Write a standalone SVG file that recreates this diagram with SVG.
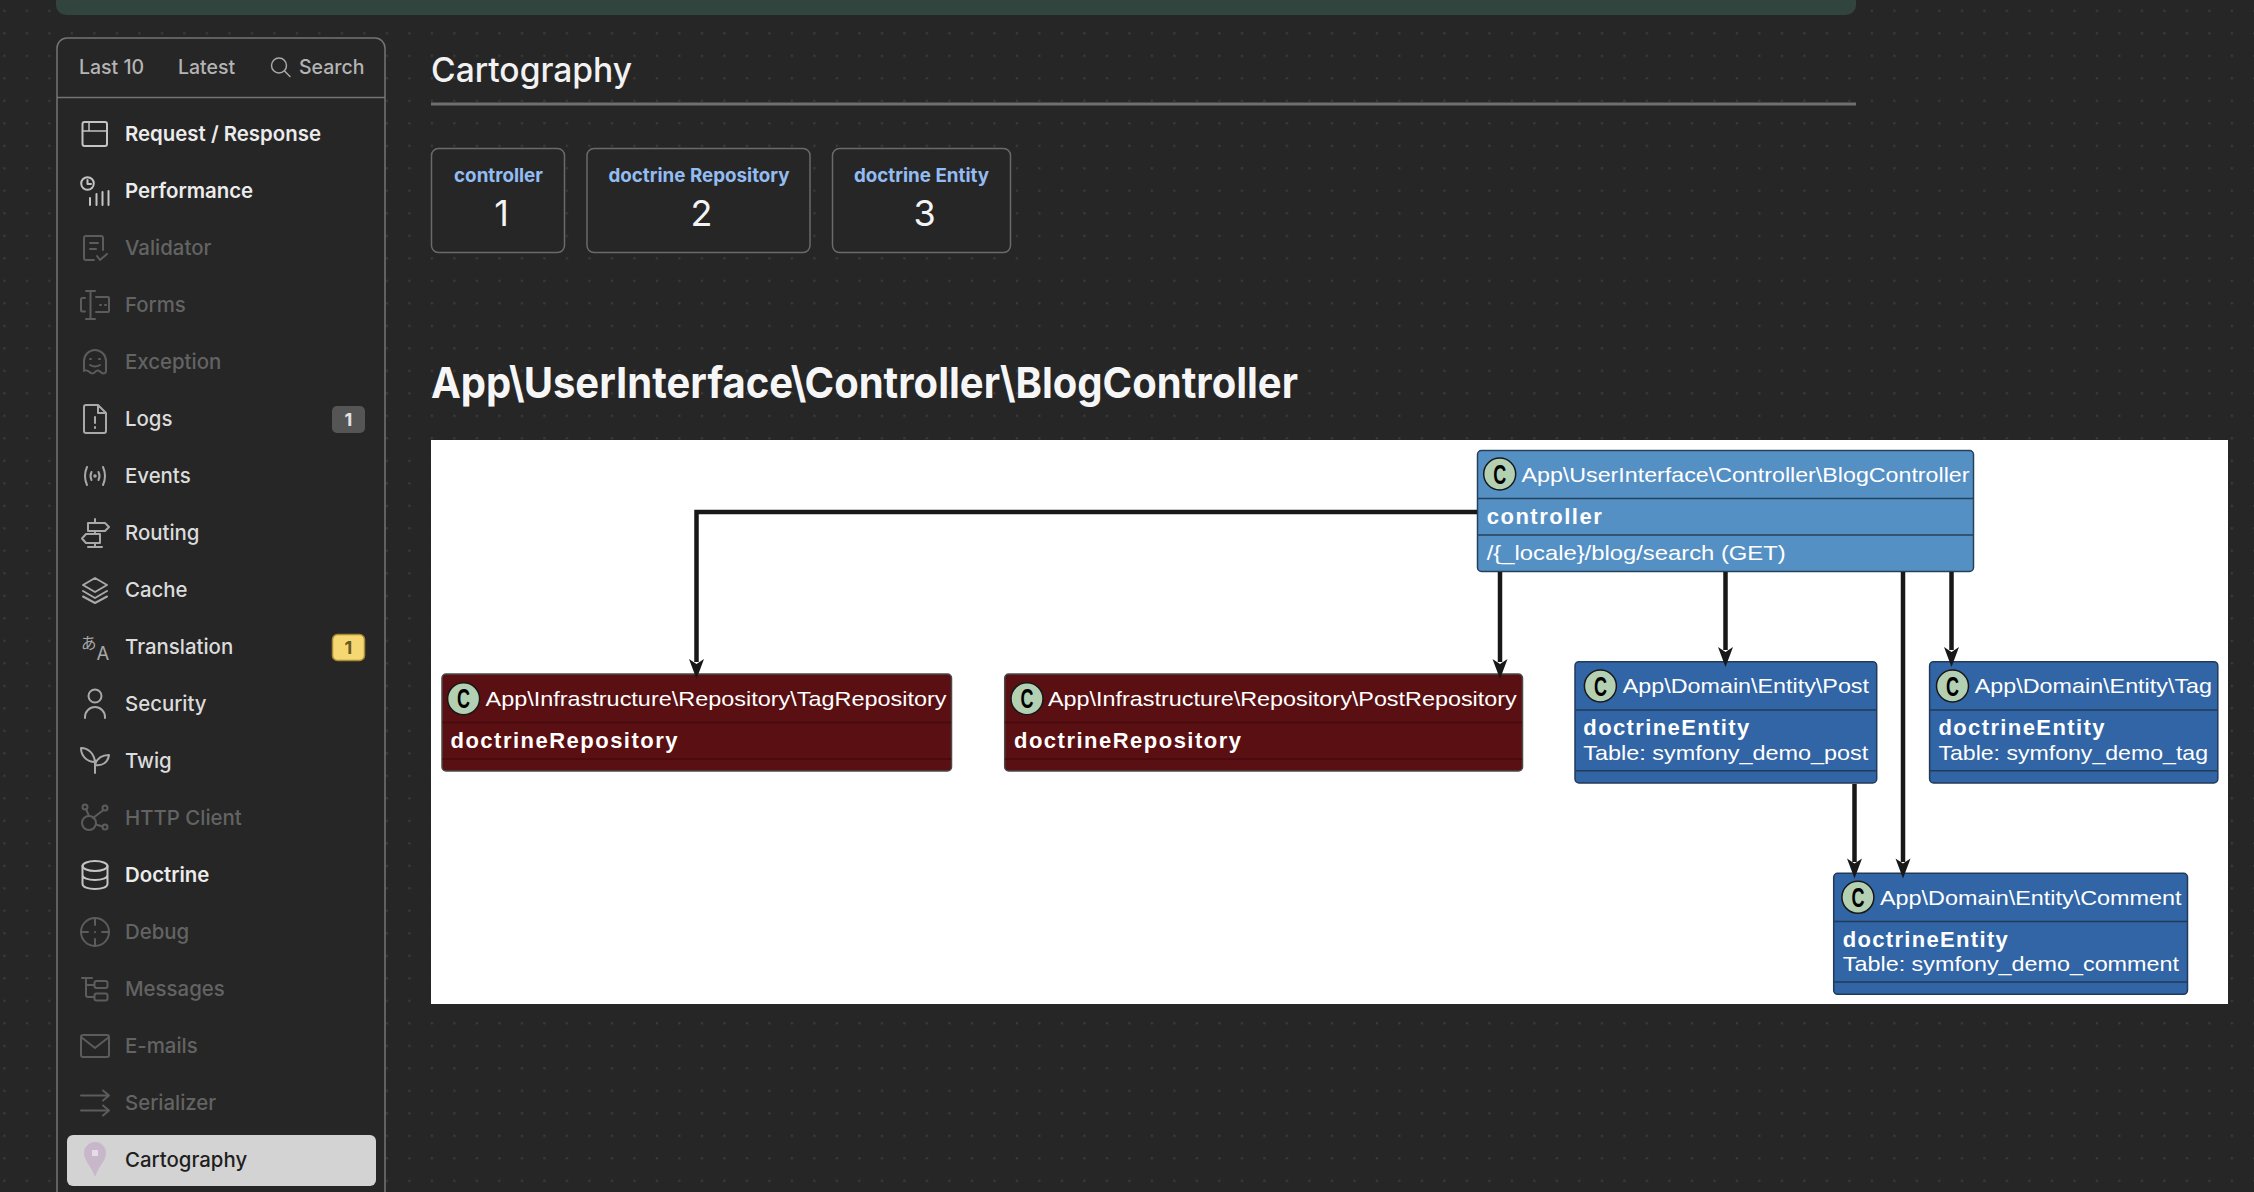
<svg xmlns="http://www.w3.org/2000/svg" width="2254" height="1192" viewBox="0 0 2254 1192">
<style>
text{font-family:"Inter","Liberation Sans",sans-serif}
.nav{font-size:20.4px;font-weight:500;fill:#dcdcdc}
.b{font-weight:600;fill:#ececec}
.off{fill:#636363}
.ic{fill:none;stroke:#a9a9a9;stroke-width:2;stroke-linecap:round;stroke-linejoin:round}
.icb{stroke:#c4c4c4}
.icoff{stroke:#5c5c5c}
.tab{font-size:19.5px;font-weight:500;fill:#b4b4b4}
.card{fill:#262626;stroke:#6a6a6a;stroke-width:1.5}
.ml{font-size:18.8px;font-weight:700;fill:#93bdf2;text-anchor:middle}
.mv{font-size:36px;font-weight:400;fill:#f4f4f4;text-anchor:middle}
.pu{font-family:"Liberation Sans",Arial,sans-serif;font-size:21px;fill:#fff}
.pub{font-family:"Liberation Sans",Arial,sans-serif;font-size:22px;font-weight:700;fill:#fff}
.ctl{fill:#5590c5;stroke:#27405a;stroke-width:1.5}
.ent{fill:#3165a5;stroke:#223a58;stroke-width:1.5}
.rep{fill:#5a0f12;stroke:#4a4a4a;stroke-width:1.5}
.dv{stroke-width:1.4;fill:none}
.cc{fill:#b4d0b2;stroke:#181818;stroke-width:1.5}
.ct{font-family:"Liberation Sans",Arial,sans-serif;font-size:27px;font-weight:700;fill:#000;text-anchor:middle}
.ln{fill:none;stroke:#181818;stroke-width:4.500}
.hd{fill:#181818}
</style>
<defs>
<pattern id="dots" x="3.3" y="9.7" width="22.5" height="22.5" patternUnits="userSpaceOnUse"><rect width="2.2" height="2.2" fill="#3b3b3b"/></pattern>
</defs>
<rect width="2254" height="1192" fill="#262626"/>
<rect width="2254" height="1192" fill="url(#dots)"/>
<path d="M56 0H1856V5a10 10 0 0 1-10 10H66a10 10 0 0 1-10-10Z" fill="#31453e"/>

<g id="sidebar">
<path d="M57 1192V48a10 10 0 0 1 10-10H375a10 10 0 0 1 10 10V1192" fill="#262626" stroke="#747474" stroke-width="1.5"/>
<line x1="57" y1="97.500" x2="385" y2="97.500" stroke="#747474" stroke-width="1.5"/>
<text class="tab" x="79" y="74">Last 10</text>
<text class="tab" x="178" y="74">Latest</text>
<g class="ic" style="stroke-width:1.5"><circle cx="279" cy="65.500" r="7.500"/><path d="M284.500 71L290 76.500"/></g>
<text class="tab" x="299" y="74">Search</text>
</g>

<g id="nav-request"><g class="ic icb"><rect x="82.500" y="122" width="24.500" height="24" rx="2"/><path d="M82.500 131H107M89 122V131" style="stroke-width:1.500"/></g><text class="nav b" x="125" y="141">Request / Response</text></g>
<g id="nav-performance"><g class="ic icb"><circle cx="87.500" cy="183.500" r="6.300"/><path d="M87.500 180V184H91"/><path d="M90 198V205M96.500 194V205M102.500 192V205M108.500 191V205"/></g><text class="nav b" x="125" y="198">Performance</text></g>
<g id="nav-validator"><g class="ic icoff"><path d="M103 250V238a2 2 0 0 0-2-2H86a2 2 0 0 0-2 2V258a2 2 0 0 0 2 2H94M90 243H98M90 249H96M97 256L100 260L107 254"/></g><text class="nav off" x="125" y="255">Validator</text></g>
<g id="nav-forms"><g class="ic icoff"><path d="M85 298H82.500a1.500 1.500 0 0 0-1.500 1.500V310a1.500 1.500 0 0 0 1.500 1.500H85M86 291H95M86 319H95M90.500 291V319M96 297H108a1 1 0 0 1 1 1V311a1 1 0 0 1-1 1H96M100 305H101M105 305H106"/></g><text class="nav off" x="125" y="312">Forms</text></g>
<g id="nav-exception"><g class="ic icoff"><path d="M84 371V361a11 11 0 0 1 22 0V371c0 3-3.500 3-5.500 1c-1.500-2-3.500-2-5.500 0c-1.500 2-3.500 2-5.500 0c-2-2-5.500-2-5.500-1ZM90 359H91M99 359H100M90 365q5 3 10 0"/></g><text class="nav off" x="125" y="369">Exception</text></g>
<g id="nav-logs"><g class="ic"><path d="M84 431V407a2 2 0 0 1 2-2H98L106 413V431a2 2 0 0 1-2 2H86a2 2 0 0 1-2-2ZM98 405V413H106M95 417V423M95 427V428"/></g><text class="nav" x="125" y="426">Logs</text><rect x="332" y="406" width="33" height="27" rx="5" fill="#555"/><text x="348.500" y="426" text-anchor="middle" font-size="18" font-weight="700" fill="#e4e4e4">1</text></g>
<g id="nav-events"><g class="ic"><path d="M87 467q-4 9 0 18M103 467q4 9 0 18M91.500 472q-2 4 0 8M98.500 472q2 4 0 8"/><circle cx="95" cy="476" r="0.800"/></g><text class="nav" x="125" y="483">Events</text></g>
<g id="nav-routing"><g class="ic"><path d="M95 519V523M95 543V547M88 547H102M95 531V534M88 523H105L109 527L105 531H88ZM100 534H86L82 538.500L86 543H100Z"/></g><text class="nav" x="125" y="540">Routing</text></g>
<g id="nav-cache"><g class="ic"><path d="M95 578L107 585L95 592L83 585ZM83 591L95 598L107 591M83 596.500L95 603L107 596.500"/></g><text class="nav" x="125" y="597">Cache</text></g>
<g id="nav-translation"><text x="81" y="649" font-size="15.500" fill="#a9a9a9" style="font-family:'Noto Sans CJK JP',sans-serif">あ</text><text x="96.500" y="659.500" font-size="18.500" fill="#a9a9a9">A</text><text class="nav" x="125" y="654">Translation</text><rect x="332.500" y="634.500" width="32" height="26" rx="5" fill="#f5d872" stroke="#a88a34" stroke-width="1.500"/><text x="348.500" y="654" text-anchor="middle" font-size="18" font-weight="700" fill="#6b5722">1</text></g>
<g id="nav-security"><g class="ic"><circle cx="95" cy="696" r="6.500"/><path d="M85 718V717a10 10 0 0 1 20 0V718"/></g><text class="nav" x="125" y="711">Security</text></g>
<g id="nav-twig"><g class="ic"><path d="M95 773V760M95 762C94 753 88 748 81 748C81 755 86 762 95 762ZM95 765C97 758 102 755 109 755C108 762 103 766 95 765Z"/></g><text class="nav" x="125" y="768">Twig</text></g>
<g id="nav-http"><g class="ic icoff"><circle cx="89" cy="823" r="7"/><circle cx="85" cy="807" r="2.500"/><circle cx="105" cy="808" r="2.500"/><circle cx="105" cy="827" r="2.500"/><path d="M86 809L89 816M103.500 810L93 818M96 824.500L102.500 826.500"/></g><text class="nav off" x="125" y="825">HTTP Client</text></g>
<g id="nav-doctrine"><g class="ic icb"><ellipse cx="95" cy="866" rx="12.500" ry="5"/><path d="M82.500 866V884c0 3 5.500 5 12.500 5s12.500-2 12.500-5V866M82.500 875c0 3 5.500 5 12.500 5s12.500-2 12.500-5"/></g><text class="nav b" x="125" y="882">Doctrine</text></g>
<g id="nav-debug"><g class="ic icoff"><circle cx="95" cy="932" r="14"/><path d="M95 918V925M95 939V946M81 932H88M102 932H109M95 932V932.200"/></g><text class="nav off" x="125" y="939">Debug</text></g>
<g id="nav-messages"><g class="ic icoff"><path d="M82 978H92M86 978V995a2 2 0 0 0 2 2H94M86 985H94"/><rect x="94.500" y="981" width="13" height="7" rx="2"/><rect x="94.500" y="993.500" width="13" height="7" rx="2"/></g><text class="nav off" x="125" y="996">Messages</text></g>
<g id="nav-emails"><g class="ic icoff"><rect x="81" y="1035" width="28" height="22" rx="2"/><path d="M81 1037L95 1048L109 1037"/></g><text class="nav off" x="125" y="1053">E-mails</text></g>
<g id="nav-serializer"><g class="ic icoff"><path d="M81 1095.500H109M103 1090.500L109 1095.500L103 1100.500M81 1110.500H109M103 1105.500L109 1110.500L103 1115.500"/></g><text class="nav off" x="125" y="1110">Serializer</text></g>
<g id="nav-cartography"><rect x="67" y="1135" width="309" height="51" rx="6" fill="#d3d3d3"/><path d="M95 1142a11 11 0 0 1 11 11c0 8-8 14-11 24c-3-10-11-16-11-24a11 11 0 0 1 11-11Z" fill="#c8b7cb"/><rect x="92" y="1150" width="6" height="6" fill="#e6dbe6"/><text class="nav" x="125" y="1167" style="fill:#1f1f1f">Cartography</text></g>

<g id="heading"><text x="431" y="82" font-size="33.600" font-weight="500" fill="#f2f2f2">Cartography</text><rect x="431" y="102.500" width="1425" height="3" fill="#6f6f6f"/></g>
<g id="metric-controller"><rect class="card" x="431.500" y="148.500" width="133" height="104" rx="7"/><text class="ml" x="498.500" y="182">controller</text><text class="mv" x="501.500" y="226">1</text></g>
<g id="metric-repository"><rect class="card" x="587" y="148.500" width="223" height="104" rx="7"/><text class="ml" x="699" y="182">doctrine Repository</text><text class="mv" x="701.500" y="226">2</text></g>
<g id="metric-entity"><rect class="card" x="832.500" y="148.500" width="178" height="104" rx="7"/><text class="ml" x="921.500" y="182">doctrine Entity</text><text class="mv" x="924.500" y="226">3</text></g>
<text id="section-title" x="431" y="398" font-size="43" font-weight="700" fill="#f6f6f6" textLength="867" lengthAdjust="spacingAndGlyphs">App\UserInterface\Controller\BlogController</text>
<rect id="panel" x="431" y="440" width="1797" height="564" fill="#fff"/>

<g id="node-blogcontroller">
<rect class="ctl" x="1477.500" y="450.500" width="496" height="121" rx="4"/>
<path class="dv" stroke="#27405a" d="M1478 498.500H1973M1478 535H1973"/>
<circle class="cc" cx="1499.700" cy="474" r="16"/><text class="ct" x="1499.700" y="483.500" textLength="13" lengthAdjust="spacingAndGlyphs">C</text>
<text class="pu" x="1521.500" y="481.500" textLength="448" lengthAdjust="spacingAndGlyphs">App\UserInterface\Controller\BlogController</text>
<text class="pub" x="1486.700" y="524" textLength="115" lengthAdjust="spacing">controller</text>
<text class="pu" x="1486.700" y="559.500" textLength="299" lengthAdjust="spacingAndGlyphs">/{_locale}/blog/search (GET)</text>
</g>
<g id="node-tagrepository">
<rect class="rep" x="442" y="674" width="509.500" height="97" rx="4"/>
<path class="dv" stroke="#460b0e" d="M442.500 722.500H951M442.500 759H951"/>
<circle class="cc" cx="463.600" cy="698.700" r="16"/><text class="ct" x="463.600" y="708" textLength="13" lengthAdjust="spacingAndGlyphs">C</text>
<text class="pu" x="485.500" y="706" textLength="461" lengthAdjust="spacingAndGlyphs">App\Infrastructure\Repository\TagRepository</text>
<text class="pub" x="450.500" y="748" textLength="227" lengthAdjust="spacing">doctrineRepository</text>
</g>
<g id="node-postrepository">
<rect class="rep" x="1004.700" y="674" width="517.800" height="97" rx="4"/>
<path class="dv" stroke="#460b0e" d="M1005 722.500H1522M1005 759H1522"/>
<circle class="cc" cx="1027" cy="698.700" r="16"/><text class="ct" x="1027" y="708" textLength="13" lengthAdjust="spacingAndGlyphs">C</text>
<text class="pu" x="1048" y="706" textLength="468.700" lengthAdjust="spacingAndGlyphs">App\Infrastructure\Repository\PostRepository</text>
<text class="pub" x="1014" y="748" textLength="227" lengthAdjust="spacing">doctrineRepository</text>
</g>
<g id="node-post">
<rect class="ent" x="1575" y="661.700" width="301.700" height="121.300" rx="4"/>
<path class="dv" stroke="#223a58" d="M1575.500 710H1876M1575.500 770.700H1876"/>
<circle class="cc" cx="1600.400" cy="686" r="16"/><text class="ct" x="1600.400" y="695.500" textLength="13" lengthAdjust="spacingAndGlyphs">C</text>
<text class="pu" x="1622.800" y="693" textLength="246.200" lengthAdjust="spacingAndGlyphs">App\Domain\Entity\Post</text>
<text class="pub" x="1583.300" y="735" textLength="166" lengthAdjust="spacing">doctrineEntity</text>
<text class="pu" x="1583.300" y="760" textLength="285" lengthAdjust="spacingAndGlyphs">Table: symfony_demo_post</text>
</g>
<g id="node-tag">
<rect class="ent" x="1929.600" y="661.700" width="288.200" height="121.300" rx="4"/>
<path class="dv" stroke="#223a58" d="M1930 710H2217M1930 770.700H2217"/>
<circle class="cc" cx="1952.500" cy="686" r="16"/><text class="ct" x="1952.500" y="695.500" textLength="13" lengthAdjust="spacingAndGlyphs">C</text>
<text class="pu" x="1974.800" y="693" textLength="237.200" lengthAdjust="spacingAndGlyphs">App\Domain\Entity\Tag</text>
<text class="pub" x="1938.400" y="735" textLength="166" lengthAdjust="spacing">doctrineEntity</text>
<text class="pu" x="1938.400" y="760" textLength="269.600" lengthAdjust="spacingAndGlyphs">Table: symfony_demo_tag</text>
</g>
<g id="node-comment">
<rect class="ent" x="1833.700" y="873.300" width="353.800" height="121" rx="4"/>
<path class="dv" stroke="#223a58" d="M1834 921.500H2187M1834 982H2187"/>
<circle class="cc" cx="1857.900" cy="897.300" r="16"/><text class="ct" x="1857.900" y="906.800" textLength="13" lengthAdjust="spacingAndGlyphs">C</text>
<text class="pu" x="1880" y="905" textLength="301.600" lengthAdjust="spacingAndGlyphs">App\Domain\Entity\Comment</text>
<text class="pub" x="1842.800" y="946.700" textLength="165" lengthAdjust="spacing">doctrineEntity</text>
<text class="pu" x="1842.800" y="971" textLength="336.200" lengthAdjust="spacingAndGlyphs">Table: symfony_demo_comment</text>
</g>

<g id="connectors">
<path class="ln" d="M1477 512H696.500V662"/><path class="hd" d="M696.500 679L689 659L696.500 664L704 659Z"/>
<path class="ln" d="M1500 572V662"/><path class="hd" d="M1500 679L1492.500 659L1500 664L1507.500 659Z"/>
<path class="ln" d="M1725.500 572V650"/><path class="hd" d="M1725.500 667L1718 647L1725.500 652L1733 647Z"/>
<path class="ln" d="M1951.500 572V650"/><path class="hd" d="M1951.500 667L1944 647L1951.500 652L1959 647Z"/>
<path class="ln" d="M1854.500 784V862"/><path class="hd" d="M1854.500 878.500L1847 858.500L1854.500 863.500L1862 858.500Z"/>
<path class="ln" d="M1903 572V862"/><path class="hd" d="M1903 878.500L1895.500 858.500L1903 863.500L1910.500 858.500Z"/>
</g>
</svg>
